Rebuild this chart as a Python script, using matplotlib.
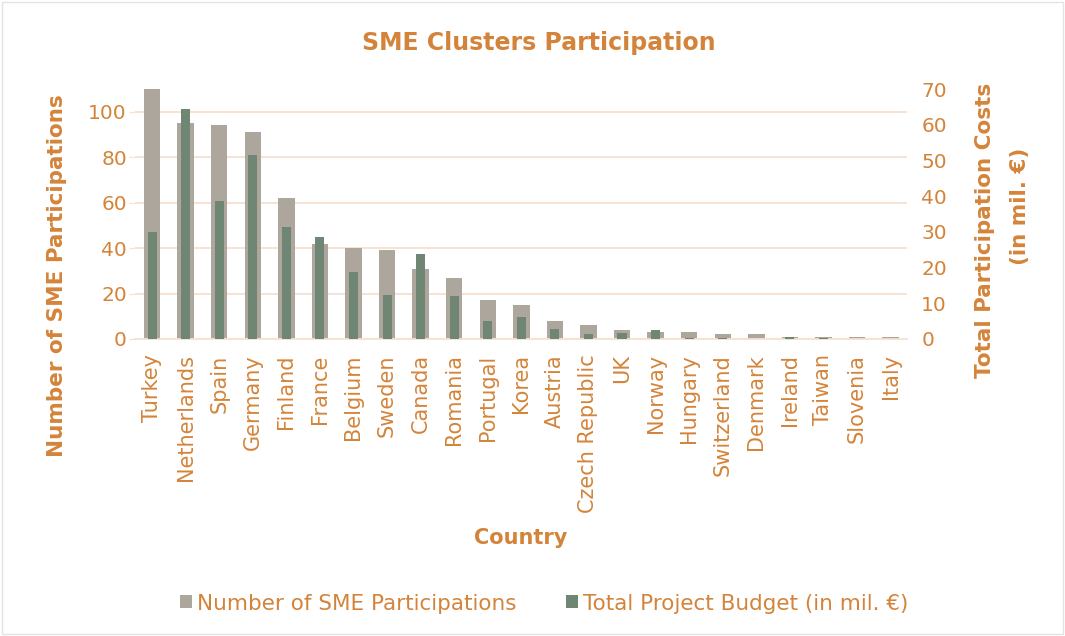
import matplotlib
matplotlib.use("Agg")
import matplotlib.pyplot as plt
import numpy as np
from matplotlib.patches import Rectangle

countries = ["Turkey", "Netherlands", "Spain", "Germany", "Finland", "France",
             "Belgium", "Sweden", "Canada", "Romania", "Portugal", "Korea",
             "Austria", "Czech Republic", "UK", "Norway", "Hungary",
             "Switzerland", "Denmark", "Ireland", "Taiwan", "Slovenia", "Italy"]
sme_participations = [110, 95, 94, 91, 62, 42, 40, 39, 31, 27, 17, 15,
                      8, 6, 4, 3, 3, 2, 2, 1, 1, 1, 1]
project_budget = [30.0, 64.4, 38.7, 51.5, 31.5, 28.7, 18.9, 12.4, 23.7, 11.9,
                  5.1, 6.2, 2.9, 1.4, 1.7, 2.6, 0.3, 0.3, 0.1, 0.6, 0.3, 0.1, 0.1]

ORANGE = "#D4843A"
GRAY = "#ADA69D"
GREEN = "#6E8673"
GRID = "#F7E1CF"

plt.rcParams['font.family'] = ['DejaVu Sans']

W, H = 1065, 636
fig = plt.figure(figsize=(W / 100, H / 100), dpi=100)
fig.patches.append(Rectangle((0.002, 0.003), 0.996, 0.994, transform=fig.transFigure,
                             fill=False, edgecolor="#E3E3E3", linewidth=1))
ax = fig.add_axes([0.127, 0.467, 0.725, 0.393])
ax2 = ax.twinx()

x = np.arange(len(countries))
ax.bar(x, sme_participations, width=0.49, color=GRAY, edgecolor="none",
       label="Number of SME Participations", zorder=2)
ax2.bar(x, project_budget, width=0.27, color=GREEN, edgecolor="none",
        label="Total Project Budget (in mil. €)", zorder=3)

ax.set_xlim(-0.5, len(countries) - 0.5)
ax.set_ylim(0, 110)
ax2.set_ylim(0, 70)
ax.set_yticks(range(0, 101, 20))
ax2.set_yticks(range(0, 71, 10))
ax.yaxis.grid(True, color=GRID, linewidth=1.3, zorder=0)
ax.set_axisbelow(True)

for a in (ax, ax2):
    for s in a.spines.values():
        s.set_visible(False)
ax.spines['bottom'].set_visible(True)
ax.spines['bottom'].set_color(GRID)
ax.spines['bottom'].set_linewidth(1.3)

ax.set_xticks(x)
ax.set_xticklabels(countries, rotation=90, color=ORANGE, fontsize=15)
ax.tick_params(axis='x', length=0, pad=11)
ax.tick_params(axis='y', length=4, color=GRID, labelcolor=ORANGE, labelsize=14.5, pad=2)
ax2.tick_params(axis='y', length=0, labelcolor=ORANGE, labelsize=14.5, pad=10)

fig.text(57 / W, 1 - 276 / H, "Number of SME Participations", color=ORANGE,
         fontsize=15.5, fontweight='bold', rotation=90, ha='center', va='center')
fig.text(985 / W, 1 - 230 / H, "Total Participation Costs", color=ORANGE,
         fontsize=15.5, fontweight='bold', rotation=90, ha='center', va='center')
fig.text(1020 / W, 1 - 206 / H, "(in mil. €)", color=ORANGE,
         fontsize=15.5, fontweight='bold', rotation=90, ha='center', va='center')
fig.text(521 / W, 1 - 538 / H, "Country", color=ORANGE,
         fontsize=15, fontweight='bold', ha='center', va='center')

fig.text(0.506, 0.933, "SME Clusters Participation", color=ORANGE, fontsize=17,
         fontweight='bold', ha='center', va='center')

h1, l1 = ax.get_legend_handles_labels()
h2, l2 = ax2.get_legend_handles_labels()
leg = fig.legend(h1 + h2, l1 + l2, loc='center', bbox_to_anchor=(0.511, 0.051),
                 ncol=2, frameon=False, fontsize=15.5, handlelength=0.55,
                 handleheight=0.55, handletextpad=0.25, columnspacing=2.3)
for t in leg.get_texts():
    t.set_color(ORANGE)

fig.savefig("out.png", dpi=100)
